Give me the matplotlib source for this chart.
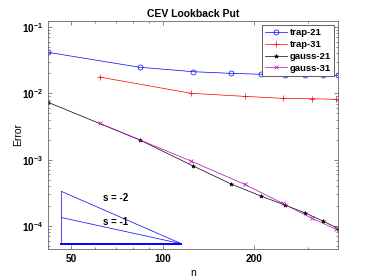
import numpy as np
import matplotlib.pyplot as plt
from matplotlib.ticker import NullFormatter

plt.rcParams['font.family'] = ['Liberation Sans', 'DejaVu Sans']
plt.rcParams['font.weight'] = 'bold'
plt.rcParams['mathtext.default'] = 'bf'

# number of points
n21 = [42, 84, 126, 168, 210, 252, 294, 336, 378]
n31 = [62, 124, 186, 248, 310, 372]

# errors
trap21 = [0.0415, 0.0247, 0.0212, 0.0200, 0.0194, 0.0190, 0.0188, 0.0187, 0.0186]
trap31 = [0.0176, 0.0100, 0.0090, 0.0084, 0.0083, 0.0081]
gauss21 = [0.0073, 0.00198, 0.00080, 0.000428, 0.000283, 0.000207, 0.000157, 0.000119, 0.000091]
gauss31 = [0.00353, 0.00095, 0.000423, 0.000219, 0.000130, 0.000089]

# slope triangle
tri_n = [46.4, 115.0]
tri_base = 5.4e-5
slopes = [-2, -1]

fig = plt.figure(figsize=(3.74, 2.8), dpi=100)
ax = fig.add_axes([0.129, 0.111, 0.7756, 0.815])

lw = 0.5
ax.loglog(n21, trap21, 'b-o', lw=lw, ms=3.6, mfc='none', mew=0.5, label='trap-21')
ax.loglog(n31, trap31, 'r-+', lw=lw, ms=4.5, mew=0.5, label='trap-31')
ax.loglog(n21, gauss21, 'k-*', lw=lw, ms=3, mew=0.4, label='gauss-21')
ax.loglog(n31, gauss31, 'm-x', lw=lw, ms=3, mew=0.5, label='gauss-31')

# triangle showing slopes
for s in slopes:
    top = tri_base * (tri_n[1] / tri_n[0]) ** (-s)
    ax.loglog(tri_n, [top, tri_base], 'b-', lw=0.5)
top2 = tri_base * (tri_n[1] / tri_n[0]) ** 2
ax.loglog([tri_n[0], tri_n[0]], [tri_base, top2], 'b-', lw=0.5)
ax.loglog(tri_n, [tri_base, tri_base], 'b-', lw=1.4)
ax.text(70, 2.64e-4, 's = -2', ha='center', va='center', fontsize=7)
ax.text(70, 1.15e-4, 's = -1', ha='center', va='center', fontsize=7)

ax.set_xlim(42, 378)
ax.set_ylim(4.5e-5, 0.1245)
ax.set_xticks([50, 100, 200])
ax.set_xticklabels(['50', '100', '200'])
ax.xaxis.set_minor_formatter(NullFormatter())

ax.tick_params(which='both', direction='in', top=True, right=True,
               labelsize=7.2, color='#555555', width=0.5)
ax.tick_params(which='major', length=3)
ax.tick_params(which='minor', length=1.6)
for sp in ax.spines.values():
    sp.set_color('#666666')
    sp.set_linewidth(0.6)

ax.set_title('CEV Lookback Put', fontsize=7.5, fontweight='bold', pad=3)
ax.set_xlabel('n', fontsize=7.5, labelpad=3)
ax.set_ylabel('Error', fontsize=7.5)
ax.yaxis.set_label_coords(-0.085, 0.5)

leg = ax.legend(loc='upper right', fontsize=6.8, fancybox=False, framealpha=1,
                edgecolor='#444444', handlelength=2.3, handletextpad=0.3,
                borderpad=0.3, labelspacing=0.3, borderaxespad=0.5)
leg.get_frame().set_linewidth(0.6)

fig.savefig('out.png', dpi=100)
